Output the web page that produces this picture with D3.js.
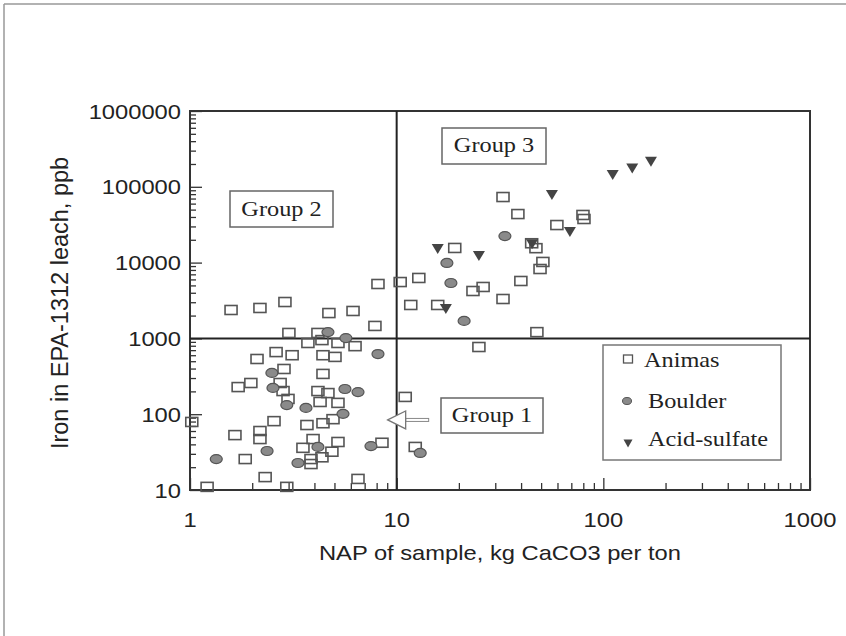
<!DOCTYPE html>
<html>
<head>
<meta charset="utf-8">
<script src="https://cdn.jsdelivr.net/npm/d3@7"></script>
<style>
html,body{margin:0;padding:0;background:#fff;}
svg{display:block;}
</style>
</head>
<body>
<svg id="chart" width="846" height="636"></svg>
<script>
// ---------- data ----------
const animasNAP = [1.58,2.18,2.88,4.70,6.15,8.12,7.85,3.01,10.4,4.16,3.72,4.35,5.20,6.29,2.61,3.12,2.11,4.40,5.03,2.85,4.40,1.71,1.97,2.73,2.82,4.16,4.65,2.98,4.26,5.20,4.92,4.40,3.68,2.55,2.18,2.18,1.65,1.02,3.94,5.20,8.49,3.52,4.86,4.35,3.85,3.85,1.85,2.31,6.50,1.21,2.94,11.0,12.3,45,47.2,19.1,51,49.4,12.8,39.9,26.2,23.4,32.7,11.7,15.8,47.7,25.0,32.7,38.6,79.7,80.6,59.6];
const animasFe  = [2370,2520,3020,2160,2300,5220,1460,1180,5540,1180,870,950,870,790,660,600,535,600,570,395,340,228,258,258,202,202,190,159,145,141,86,76,72,81,60,47,53,79,47,43,42,36,32,27,25.6,22,25.6,14.8,14,11,11,169,37,18000,15500,15600,10200,8230,6270,5720,4770,4220,3310,2760,2760,1210,770,73300,43700,42500,37600,31300];
const boulderNAP = [4.65,5.68,8.12,2.49,2.52,5.62,6.50,2.94,3.64,5.50,7.51,4.16,2.36,3.33,1.34,13.0,33.4,17.5,18.3,21.2];
const boulderFe  = [1210,1010,622,350,222,215,196,132,121,101,38,37,32.7,22.7,25.6,30.8,22400,9890,5380,1700];
const acidNAP = [15.8,25.0,17.3,68.9,56.4,111,138,170,45.2];
const acidFe  = [15100,12200,2440,25400,78000,143000,175000,214000,17500];
const xTickValues = [1,10,100,1000];
const xTickLabels = ["1","10","100","1000"];
const yTickValues = [10,100,1000,10000,100000,1000000];
const yTickLabels = ["10","100","1000","10000","100000","1000000"];
const groupLabels = ["Group 1","Group 2","Group 3"];
const seriesNames = ["Animas","Boulder","Acid-sulfate"];
const napThreshold = 10;
const feThreshold = 1000;
const xTitle = "NAP of sample, kg CaCO3 per ton";
const yTitle = "Iron in EPA-1312 leach, ppb";

// ---------- layout ----------
const svg = d3.select("#chart");
const L = 190, R = 810, T = 111, B = 490;
const x = d3.scaleLog().domain([1,1000]).range([L,R]);
const y = d3.scaleLog().domain([10,1e6]).range([B,T]);
const SX = 1.13; // horizontal stretch of the original picture
const sans = "'Liberation Sans', Arial, sans-serif";
const serif = "'Liberation Serif', 'Times New Roman', serif";

function txt(px, py, str, size, family, anchor, fill) {
  svg.append("g").attr("transform", `translate(${px},${py}) scale(${SX},1)`)
    .append("text").attr("text-anchor", anchor || "start")
    .attr("font-family", family).attr("font-size", size)
    .attr("fill", fill || "#222").text(str);
}

// page frame (top/left only visible)
svg.append("line").attr("x1",4).attr("y1",4).attr("x2",846).attr("y2",4).attr("stroke","#999").attr("stroke-width",1.5);
svg.append("line").attr("x1",4).attr("y1",4).attr("x2",4).attr("y2",636).attr("stroke","#999").attr("stroke-width",1.5);

// minor ticks
function minors(lo, hi) {
  const out = [];
  for (let d = lo; d < hi; d *= 10) for (let k = 2; k <= 9; k++) out.push(d*k);
  return out;
}
const axX = svg.append("g").attr("transform", `translate(0,${B})`);
axX.append("g").call(d3.axisBottom(x).tickValues(xTickValues).tickSize(-12).tickFormat(""));
axX.append("g").call(d3.axisBottom(x).tickValues(minors(1,1000)).tickSize(-7).tickFormat(""));
const axY = svg.append("g").attr("transform", `translate(${L},0)`);
axY.append("g").call(d3.axisLeft(y).tickValues(yTickValues).tickSize(-12).tickFormat(""));
axY.append("g").call(d3.axisLeft(y).tickValues(minors(10,1e6)).tickSize(-6).tickFormat(""));
svg.selectAll(".domain").remove();
svg.selectAll(".tick line").attr("stroke","#333").attr("stroke-width",1.3);

// frame
svg.append("rect").attr("x",L).attr("y",T).attr("width",R-L).attr("height",B-T)
  .attr("fill","none").attr("stroke","#333").attr("stroke-width",2);

// threshold lines
svg.append("line").attr("x1",x(napThreshold)).attr("x2",x(napThreshold)).attr("y1",T).attr("y2",B)
  .attr("stroke","#222").attr("stroke-width",2);
svg.append("line").attr("x1",L).attr("x2",R).attr("y1",y(feThreshold)).attr("y2",y(feThreshold))
  .attr("stroke","#222").attr("stroke-width",2);

// tick labels
xTickValues.forEach((v,i) => txt(x(v), 527, xTickLabels[i], 21, sans, "middle", "#222"));
yTickValues.forEach((v,i) => txt(181, y(v)+7.5, yTickLabels[i], 21, sans, "end", "#222"));

// axis titles
txt((L+R)/2 - 0, 560, xTitle, 21, sans, "middle", "#222");
svg.append("text").attr("transform", `translate(68,303) rotate(-90)`)
  .attr("text-anchor","middle").attr("font-family",sans).attr("font-size",23.5)
  .attr("fill","#222").text(yTitle);

// markers
const sqW = 12, sqH = 9;
svg.append("g").selectAll("rect").data(animasNAP.map((v,i)=>[v,animasFe[i]])).join("rect")
  .attr("x", d => x(d[0]) - sqW/2).attr("y", d => y(d[1]) - sqH/2)
  .attr("width", sqW).attr("height", sqH)
  .attr("fill","none").attr("stroke","#555").attr("stroke-width",1.6);
svg.append("g").selectAll("ellipse").data(boulderNAP.map((v,i)=>[v,boulderFe[i]])).join("ellipse")
  .attr("cx", d => x(d[0])).attr("cy", d => y(d[1])).attr("rx",6).attr("ry",4.5)
  .attr("fill","#8a8a8a").attr("stroke","#555").attr("stroke-width",1.2);
const tri = (cx,cy,w,h) => `M${cx-w/2},${cy-h/2}L${cx+w/2},${cy-h/2}L${cx},${cy+h/2}Z`;
svg.append("g").selectAll("path").data(acidNAP.map((v,i)=>[v,acidFe[i]])).join("path")
  .attr("d", d => tri(x(d[0]), y(d[1]), 12, 10)).attr("fill","#444");

// group boxes
const boxes = [
  {label: groupLabels[1], x0: 230, y0: 191, w: 103, h: 36, tb: 216},
  {label: groupLabels[2], x0: 442, y0: 128, w: 104, h: 36, tb: 152},
  {label: groupLabels[0], x0: 441, y0: 398, w: 102, h: 35, tb: 422}
];
boxes.forEach(b => {
  svg.append("rect").attr("x",b.x0).attr("y",b.y0).attr("width",b.w).attr("height",b.h)
    .attr("fill","#fff").attr("stroke","#666").attr("stroke-width",1.5);
  txt(b.x0 + b.w/2, b.tb, b.label, 21.5, serif, "middle", "#222");
});

// arrow pointing to the NAP threshold
const ax0 = x(napThreshold) - 9, ay = y(84);
svg.append("rect").attr("x", ax0+18).attr("y", ay-1.5).attr("width", 23).attr("height", 3)
  .attr("fill","#fff").attr("stroke","#888").attr("stroke-width",1);
svg.append("path").attr("d", `M${ax0},${ay}L${ax0+18},${ay-9}L${ax0+18},${ay+9}Z`)
  .attr("fill","#fff").attr("stroke","#777").attr("stroke-width",1.3);

// legend
svg.append("rect").attr("x",603).attr("y",345).attr("width",178).attr("height",115)
  .attr("fill","#fff").attr("stroke","#777").attr("stroke-width",1.5);
svg.append("rect").attr("x",623.5).attr("y",355).attr("width",9).attr("height",8)
  .attr("fill","none").attr("stroke","#555").attr("stroke-width",1.3);
txt(644, 367, seriesNames[0], 21.5, serif, "start", "#222");
svg.append("ellipse").attr("cx",627).attr("cy",401).attr("rx",4.5).attr("ry",3.5)
  .attr("fill","#8a8a8a").attr("stroke","#555").attr("stroke-width",1);
txt(648, 408, seriesNames[1], 21.5, serif, "start", "#222");
svg.append("path").attr("d", tri(628, 443.5, 9, 8)).attr("fill","#444");
txt(648, 446, seriesNames[2], 21.5, serif, "start", "#222");
</script>
</body>
</html>
